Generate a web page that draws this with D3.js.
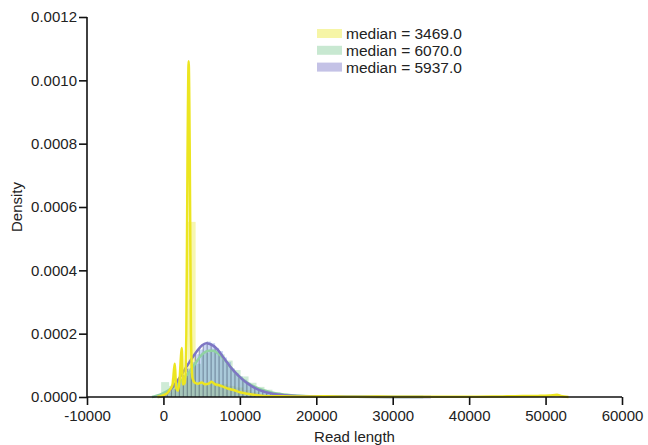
<!DOCTYPE html>
<html><head><meta charset="utf-8">
<script src="https://cdn.jsdelivr.net/npm/d3@7"></script>
<style>body{margin:0;background:#fff}svg{display:block}</style>
</head><body>
<script>
// ---- data (densities in units of 1e-5) ----
const seriesNames = ["median = 3469.0", "median = 6070.0", "median = 5937.0"];
const xTicks = [-10000, 0, 10000, 20000, 30000, 40000, 50000, 60000];
const yTicks = [0, 0.0002, 0.0004, 0.0006, 0.0008, 0.0010, 0.0012];

// yellow histogram
const yellowBinStart = 56, yellowBinWidth = 1040;
const yellowBars = [1.5, 6, 6, 55.3, 4, 4, 4.5, 4, 3.5, 3, 2.2, 1.5, 0.8, 0.5, 0.3, 0.2, 0.15, 0.1, 0.1, 0.08,
  0.1, 0.08, 0.06, 0.05, 0.05, 0.06, 0.05, 0.04, 0.05, 0.04, 0.05, 0.04, 0.04, 0.05, 0.06, 0.05, 0.06, 0.05,
  0.06, 0.08, 0.1, 0.12, 0.15, 0.18, 0.2, 0.25, 0.3, 0.35, 0.45, 0.5];
// green histogram
const greenBinStart = -300, greenBinWidth = 1040;
const greenBars = [4.7, 3.5, 5, 7.5, 10.5, 14, 15, 13.5, 11.5, 8.5, 6.5, 4.5, 3.2, 2.3, 1.5, 1.0, 0.7, 0.5, 0.35,
  0.25, 0.15, 0.1, 0.08, 0.06, 0.05, 0.04, 0.03, 0.02];
// purple histogram
const purpleBinStart = 0, purpleBinWidth = 520;
const purpleBars = [0.5, 1.5, 2.5, 4, 5, 7, 9, 11, 13.5, 15, 16.5, 17.5, 17, 15.5, 14.5, 12.5, 11, 9, 7.5, 6.5,
  5.5, 4.5, 3.5, 2.8, 2.2, 1.8, 1.4, 1.1, 0.9, 0.7, 0.6, 0.45, 0.3, 0.2];

// KDE curves [readLength, density*1e5]
const yellowKde = [[-800,0],[0,0.6],[500,1.2],[900,2.5],[1200,4],[1400,9],[1500,10.5],[1650,3],[1900,2],
  [2100,5],[2300,13],[2400,15.5],[2550,4],[2800,4.5],[3000,20],[3150,75],[3300,106],[3450,75],[3600,20],
  [3800,6],[4100,4.5],[4500,4.2],[5000,4.6],[5500,4],[6000,4.3],[6300,4.8],[6700,4.1],[7200,3.8],
  [7800,3.3],[8500,2.6],[9200,2.2],[10000,1.5],[11000,1.0],[12000,0.6],[13000,0.35],[15000,0.25],
  [18000,0.15],[21000,0.2],[24000,0.1],[28000,0.12],[32000,0.08],[36000,0.1],[40000,0.1],[43000,0.15],
  [45000,0.2],[47000,0.3],[49000,0.35],[50500,0.45],[51500,0.7],[52000,0.3],[53000,0]];
const greenKde = [[-1500,0],[-1000,0.3],[0,1.2],[1000,2.7],[2000,4.5],[3000,6.8],[4000,10],[5000,13.3],
  [6000,14.6],[6500,14.6],[7000,14],[8000,11.8],[9000,8.8],[10000,6.3],[11000,4.5],[12000,3.2],
  [13000,2.2],[14000,1.5],[15000,1.0],[17000,0.5],[20000,0.2],[25000,0.08],[30000,0.02],[34000,0]];
const purpleKde = [[-700,0],[0,0.3],[1000,2.5],[2000,5.7],[3000,9.5],[4000,13.2],[5000,16.2],[5600,17],
  [6000,16.8],[7000,15.2],[8000,12],[9000,8.8],[10000,6.3],[11000,4.3],[12000,2.8],[13000,1.8],
  [14000,1.2],[15000,0.8],[17000,0.4],[20000,0.2],[25000,0.08],[30000,0.03],[35000,0]];

// ---- drawing ----
const W = 648, H = 445;
const svg = d3.select("body").append("svg").attr("width", W).attr("height", H);
const x = d3.scaleLinear().domain([-10000, 60000]).range([87, 622]);
const y = d3.scaleLinear().domain([0, 0.0012]).range([397, 17]);
const S = 1e-5;
const font = "Liberation Sans, Arial, sans-serif";

const colors = {
  yellow: {fill: "#ece83a", line: "#ece520", legend: "#ece83a"},
  green: {fill: "#86cc98", line: "#90d2a2", legend: "#86cc98"},
  purple: {fill: "#5a86e0", line: "#7e76c4", legend: "#7c78c8"}
};

function bars(data, start, width, col, opacity, edge) {
  const g = svg.append("g");
  g.selectAll("rect").data(data).join("rect")
    .attr("x", (d, i) => x(start + i * width))
    .attr("width", (d, i) => x(start + (i + 1) * width) - x(start + i * width))
    .attr("y", d => y(d * S))
    .attr("height", d => y(0) - y(d * S))
    .attr("fill", col).attr("fill-opacity", opacity);
  if (edge) {
    g.selectAll("line").data(data).join("line")
      .attr("x1", (d, i) => x(start + i * width)).attr("x2", (d, i) => x(start + i * width))
      .attr("y1", d => y(d * S)).attr("y2", y(0))
      .attr("stroke", "#1f2a4a").attr("stroke-opacity", 0.5).attr("stroke-width", 0.9);
  }
}
bars(yellowBars, yellowBinStart, yellowBinWidth, colors.yellow.fill, 0.4, false);
bars(greenBars, greenBinStart, greenBinWidth, colors.green.fill, 0.4, false);
bars(purpleBars, purpleBinStart, purpleBinWidth, colors.purple.fill, 0.33, true);

const line = d3.line().x(d => x(d[0])).y(d => y(d[1] * S)).curve(d3.curveMonotoneX);
function kde(data, col) {
  svg.append("path").attr("d", line(data)).attr("fill", "none")
    .attr("stroke", col).attr("stroke-width", 2.5).attr("stroke-linejoin", "round");
}
kde(greenKde, colors.green.line);
kde(purpleKde, colors.purple.line);
kde(yellowKde, colors.yellow.line);

// axes
const xAxis = svg.append("g").attr("transform", `translate(0,${y(0)})`)
  .call(d3.axisBottom(x).tickValues(xTicks).tickSize(8).tickPadding(5).tickFormat(d => String(d)));
const yAxis = svg.append("g").attr("transform", `translate(${x(-10000)},0)`)
  .call(d3.axisLeft(y).tickValues(yTicks).tickSize(8).tickPadding(2).tickFormat(d3.format(".4f")));
[xAxis, yAxis].forEach(a => {
  a.select(".domain").attr("stroke", "#111").attr("stroke-width", 1.6);
  a.selectAll(".tick line").attr("stroke", "#111").attr("stroke-width", 1.6);
  a.selectAll("text").attr("font-family", font).attr("font-size", 15).attr("fill", "#222");
});
xAxis.select(".domain").attr("d", `M${x(-10000)},0H${x(60000)}`);
yAxis.select(".domain").attr("d", `M0,${y(0)}V${y(0.0012)}`);

svg.append("text").attr("x", (x(-10000) + x(60000)) / 2).attr("y", 442).attr("text-anchor", "middle")
  .attr("font-family", font).attr("font-size", 15).attr("fill", "#222").text("Read length");
svg.append("text").attr("transform", `translate(22,${(y(0) + y(0.0012)) / 2}) rotate(-90)`)
  .attr("text-anchor", "middle").attr("font-family", font).attr("font-size", 15).attr("fill", "#222").text("Density");

// legend
const legendFills = [colors.yellow.legend, colors.green.legend, colors.purple.legend];
const lg = svg.append("g");
seriesNames.forEach((name, i) => {
  const cy = 33.5 + i * 16.8;
  lg.append("rect").attr("x", 317).attr("y", cy - 4.5).attr("width", 25).attr("height", 9)
    .attr("fill", legendFills[i]).attr("fill-opacity", 0.45);
  lg.append("text").attr("x", 346).attr("y", cy + 5.5).attr("font-family", font).attr("font-size", 15.5)
    .attr("fill", "#222").text(name);
});
</script>
</body></html>
